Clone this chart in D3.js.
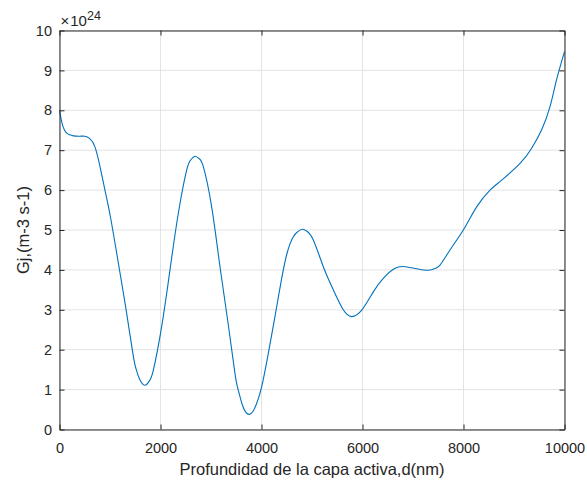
<!DOCTYPE html>
<html>
<head>
<meta charset="utf-8">
<script src="https://cdn.jsdelivr.net/npm/d3@7"></script>
<style>
  html, body { margin: 0; padding: 0; background: #fff; }
  svg { display: block; }
  text { font-family: "Liberation Sans", Arial, Helvetica, sans-serif; fill: #262626; }
</style>
</head>
<body>
<svg id="chart" width="587" height="483"></svg>
<script>
// Depth of the active layer (nm)
const depth = [0, 50, 100, 150, 200, 275, 400, 500, 600, 700, 800, 900, 1020, 1200, 1330, 1460, 1520, 1580, 1690,
  1780, 1858, 2023, 2188, 2353, 2518, 2600, 2683, 2760, 2848, 3013, 3178, 3343, 3475, 3541, 3620, 3690, 3760,
  3830, 3900, 4003, 4135, 4254, 4366, 4498, 4630, 4720, 4808, 4900, 5026, 5224, 5422, 5620, 5785, 5984, 6214,
  6412, 6644, 6842, 7073, 7300, 7420, 7535, 7733, 7996, 8261, 8525, 8756, 9119, 9350, 9548, 9713, 9842, 10000];
// Generation rate Gj, in units of 1e24 m-3 s-1
const gj = [8.00, 7.68, 7.50, 7.42, 7.385, 7.36, 7.35, 7.35, 7.29, 7.09, 6.60, 6.00, 5.25, 3.91, 2.91, 1.85, 1.50, 1.28, 1.11,
  1.22, 1.49, 2.58, 4.00, 5.42, 6.50, 6.76, 6.85, 6.79, 6.59, 5.58, 4.08, 2.62, 1.40, 0.98, 0.62, 0.43, 0.38,
  0.45, 0.64, 1.07, 1.91, 2.74, 3.55, 4.38, 4.83, 4.96, 5.02, 4.97, 4.75, 4.08, 3.50, 3.00, 2.83, 2.99, 3.45,
  3.79, 4.04, 4.08, 4.03, 3.99, 4.03, 4.12, 4.50, 5.00, 5.58, 6.00, 6.25, 6.67, 7.05, 7.51, 8.09, 8.76, 9.47];

const xTicks = [0, 2000, 4000, 6000, 8000, 10000];
const yTicks = [0, 1, 2, 3, 4, 5, 6, 7, 8, 9, 10];
const xLabel = "Profundidad de la capa activa,d(nm)";
const yLabel = "Gj,(m-3 s-1)";

const svg = d3.select("#chart");
const m = { left: 59.5, top: 30.5, right: 564.5, bottom: 429.5 };

const x = d3.scaleLinear().domain([0, 10000]).range([m.left, m.right]);
const y = d3.scaleLinear().domain([0, 10]).range([m.bottom, m.top]);

const axisColor = "#262626";
const gridColor = "#e3e3e3";

// grid lines
svg.append("g").selectAll("line").data(xTicks).join("line")
  .attr("x1", d => x(d)).attr("x2", d => x(d))
  .attr("y1", m.top).attr("y2", m.bottom)
  .attr("stroke", gridColor).attr("stroke-width", 1);
svg.append("g").selectAll("line").data(yTicks).join("line")
  .attr("y1", d => y(d)).attr("y2", d => y(d))
  .attr("x1", m.left).attr("x2", m.right)
  .attr("stroke", gridColor).attr("stroke-width", 1);

// data line
const line = d3.line()
  .x((d, i) => x(depth[i]))
  .y((d, i) => y(gj[i]))
  .curve(d3.curveNatural);
svg.append("path")
  .datum(gj)
  .attr("d", line)
  .attr("fill", "none")
  .attr("stroke", "#0072BD")
  .attr("stroke-width", 1.1);

// axes with inward ticks on all four sides
const tickLen = 5;
const fontSize = "14.5px";

const axBottom = svg.append("g").attr("transform", `translate(0,${m.bottom})`)
  .call(d3.axisBottom(x).tickValues(xTicks).tickSizeInner(-tickLen).tickSizeOuter(0).tickPadding(10).tickFormat(d3.format("d")));
const axTop = svg.append("g").attr("transform", `translate(0,${m.top})`)
  .call(d3.axisTop(x).tickValues(xTicks).tickSizeInner(-tickLen).tickSizeOuter(0).tickFormat(""));
const axLeft = svg.append("g").attr("transform", `translate(${m.left},0)`)
  .call(d3.axisLeft(y).tickValues(yTicks).tickSizeInner(-tickLen).tickSizeOuter(0).tickPadding(7.5).tickFormat(d3.format("d")));
const axRight = svg.append("g").attr("transform", `translate(${m.right},0)`)
  .call(d3.axisRight(y).tickValues(yTicks).tickSizeInner(-tickLen).tickSizeOuter(0).tickFormat(""));

[axBottom, axTop, axLeft, axRight].forEach(g => {
  g.select(".domain").attr("stroke", axisColor).attr("stroke-width", 1);
  g.selectAll(".tick line").attr("stroke", axisColor).attr("stroke-width", 1);
  g.selectAll(".tick text").attr("fill", axisColor).style("font-size", fontSize)
    .style("font-family", '"Liberation Sans", Arial, sans-serif');
});
axBottom.selectAll(".tick text").attr("dy", "0.9em");

// exponent label
const expo = svg.append("text")
  .attr("x", m.left + 1)
  .attr("y", 26)
  .style("font-size", "15px");
expo.append("tspan").text("\u00d7");
expo.append("tspan").attr("dx", 1).text("10");
expo.append("tspan").attr("dy", -6).style("font-size", "12.5px").text("24");

// axis titles
svg.append("text")
  .attr("x", (m.left + m.right) / 2)
  .attr("y", 474.5)
  .attr("text-anchor", "middle")
  .style("font-size", "16.5px")
  .text(xLabel);

svg.append("text")
  .attr("transform", `translate(28.5,${(m.top + m.bottom) / 2}) rotate(-90)`)
  .attr("text-anchor", "middle")
  .style("font-size", "16.5px")
  .text(yLabel);
</script>
</body>
</html>
